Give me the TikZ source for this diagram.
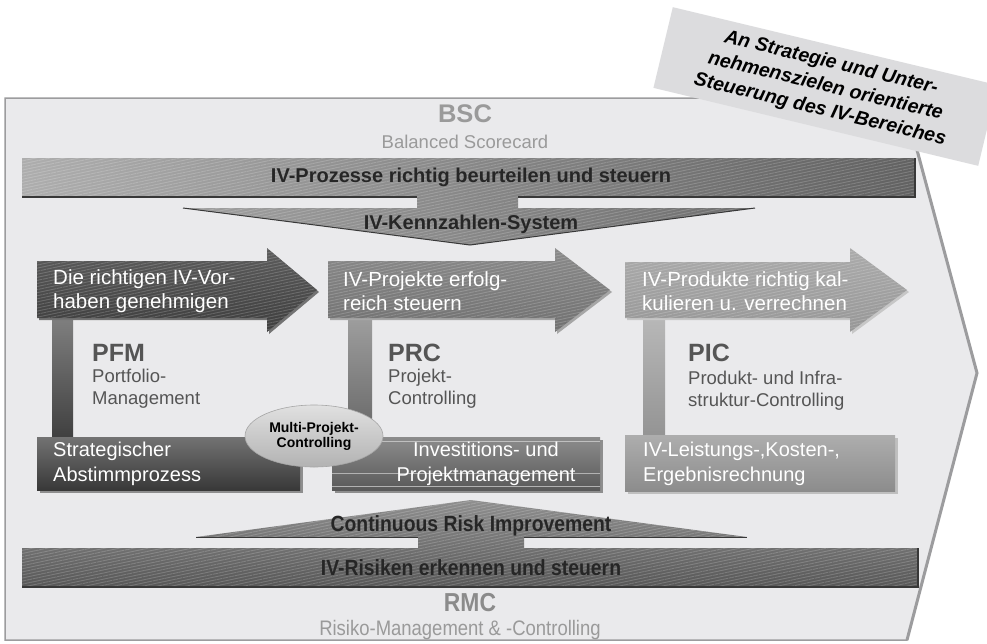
\documentclass[tikz,border=0pt]{standalone}
\usepackage{fontspec}
\setmainfont{Liberation Sans}
\newfontfamily\narrowfont[FakeStretch=0.88]{Liberation Sans}
\usetikzlibrary{patterns.meta,shadows,shapes.geometric}
\definecolor{bgshape}{HTML}{EAEAEC}
\definecolor{edgegray}{HTML}{9C9C9E}
\definecolor{cardgray}{HTML}{DCDCDE}
\definecolor{titlegray}{HTML}{9A9A9A}
\definecolor{labelgray}{HTML}{555555}
\definecolor{shadowgray}{HTML}{8E8E8E}
\definecolor{darkedge}{HTML}{383838}
\newcommand\stripedshape[2]{%
  \path[#1] #2;
  \begin{scope}[transparency group,opacity=0.18]
    \fill[pattern={Lines[angle=12,distance=3pt,line width=0.9pt]},pattern color=white] #2;
  \end{scope}}
\tikzset{
  boxshadow/.style={drop shadow={shadow xshift=3pt,shadow yshift=-3pt,fill=shadowgray,opacity=1}},
  arrowtxt/.style={inner sep=0pt,anchor=west,align=left,text=white,font=\fontsize{20.5}{24}\selectfont},
  boxtxt/.style={inner sep=0pt,anchor=west,align=left,text=white,font=\fontsize{20}{25}\selectfont},
  abbr/.style={inner sep=0pt,anchor=west,text=labelgray,font=\fontsize{25}{25}\selectfont\bfseries},
  sublbl/.style={inner sep=0pt,anchor=north west,align=left,text=labelgray,font=\fontsize{18.5}{22}\selectfont},
  bartxt/.style={inner sep=0pt,text=black!85,font=\fontsize{20}{20}\selectfont\bfseries},
  card/.style={fill=cardgray,minimum width=334pt,minimum height=83pt,inner sep=0pt,align=center,font=\fontsize{19.5}{24}\selectfont\bfseries\itshape}
}
\begin{document}
\begin{tikzpicture}[x=1pt,y=-1pt]
\useasboundingbox (0,0) rectangle (987,643);
\fill[white] (0,0) rectangle (987,643);

% outer pentagon
\path[fill=bgshape,draw=edgegray,line width=1.5pt] (5,98) -- (903,98) -- (977,373) -- (907,640) -- (5,640) -- cycle;
\draw[edgegray,line width=3pt] (903,98) -- (977,373) -- (907,640);

% rotated card
\node[card,rotate=-13.5] (card) at (825.5,86.5) {An Strategie und Unter-\\nehmenszielen orientierte\\Steuerung des IV-Bereiches};

% titles
\node[inner sep=0pt,text=titlegray,font=\fontsize{25.5}{25}\selectfont\bfseries] (bsc) at (465,114) {BSC};
\node[inner sep=0pt,text=titlegray,font=\fontsize{18.5}{18}\selectfont] (bscsub) at (465,142) {Balanced Scorecard};

% top bar + down triangle
\stripedshape{left color=black!32,right color=black!62}{(22,158) -- (915,158) -- (915,197) -- (518,197) -- (518,208) -- (755,208) -- (470,245) -- (183,208) -- (417,208) -- (417,197) -- (22,197) -- cycle}
\draw[darkedge,line width=1.5pt] (22,197) -- (417,197);
\draw[darkedge,line width=1.5pt] (518,197) -- (915,197) -- (915,158);
\draw[darkedge,line width=1pt] (183,208) -- (470,245) -- (755,208);
\node[bartxt] (ivproz) at (471,177) {IV-Prozesse richtig beurteilen und steuern};
\node[bartxt] (ivkenn) at (471,224) {IV-Kennzahlen-System};

% vertical connector bars
\path[top color=black!50,bottom color=black!75] (52,317) rectangle (73,438);
\path[top color=black!38,bottom color=black!60] (348,317) rectangle (372,438);
\path[top color=black!28,bottom color=black!42] (643,318) rectangle (665,436);

% arrows
\stripedshape{top color=black!64,bottom color=black!76,drop shadow={shadow xshift=2pt,shadow yshift=-2pt,fill=black!55,opacity=1}}{(37,261) -- (267,261) -- (267,248) -- (317,290) -- (267,332) -- (267,318) -- (37,318) -- cycle}
\stripedshape{top color=black!46,bottom color=black!56,drop shadow={shadow xshift=2pt,shadow yshift=-2pt,fill=black!35,opacity=1}}{(328,261) -- (555,261) -- (555,248) -- (610,290) -- (555,332) -- (555,318) -- (328,318) -- cycle}
\stripedshape{top color=black!33,bottom color=black!41,drop shadow={shadow xshift=2pt,shadow yshift=-2pt,fill=black!22,opacity=1}}{(625,262) -- (850,262) -- (850,248) -- (907,290) -- (850,332) -- (850,318) -- (625,318) -- cycle}
\node[arrowtxt] (a1txt) at (53,291) {Die richtigen IV-Vor-\\haben genehmigen};
\node[arrowtxt] (a2txt) at (343,291) {IV-Projekte erfolg-\\reich steuern};
\node[arrowtxt] (a3txt) at (642,291) {IV-Produkte richtig kal-\\kulieren u. verrechnen};

% labels
\node[abbr] (pfm) at (92,353) {PFM};
\node[sublbl] (pfmsub) at (92,369) {Portfolio-\\Management};
\node[abbr] (prc) at (388,353) {PRC};
\node[sublbl] (prcsub) at (388,369) {Projekt-\\Controlling};
\node[abbr] (pic) at (688,353) {PIC};
\node[sublbl] (picsub) at (688,371) {Produkt- und Infra-\\struktur-Controlling};

% bottom boxes
\path[top color=black!55,bottom color=black!78,boxshadow] (37,437) rectangle (300,490);
\path[top color=black!45,bottom color=black!65,boxshadow] (332,437) rectangle (600,490);
\draw[white!75!black,line width=0.8pt] (332,441) -- (600,441);
\draw[white!70!black,line width=0.8pt] (332,473) -- (600,473);
\draw[white!70!black,line width=0.8pt] (332,486) -- (600,486);
\path[top color=black!32,bottom color=black!45,drop shadow={shadow xshift=3pt,shadow yshift=-3pt,fill=black!25,opacity=1}] (625,435) rectangle (895,491);
\node[boxtxt] (b1txt) at (53,464) {Strategischer\\Abstimmprozess};
\node[boxtxt,anchor=center,align=center] (b2txt) at (486,464) {Investitions- und\\Projektmanagement};
\node[boxtxt] (b3txt) at (643,464) {IV-Leistungs-,Kosten-,\\Ergebnisrechnung};

% ellipse
\node[ellipse,minimum width=138pt,minimum height=62pt,inner sep=0pt,top color=black!12,bottom color=black!30,draw=black!35,line width=0.6pt,align=center,font=\fontsize{14}{15}\selectfont\bfseries] (mpc) at (314,436) {Multi-Projekt-\\Controlling};

% bottom bar + up triangle
\stripedshape{top color=black!44,bottom color=black!66}{(22,548) -- (418,548) -- (418,537) -- (196,537) -- (471,500) -- (747,537) -- (524,537) -- (524,548) -- (918,548) -- (918,587) -- (22,587) -- cycle}
\draw[darkedge,line width=1.5pt] (22,587) -- (918,587) -- (918,548);
\draw[darkedge,line width=1pt] (196,537) -- (418,537);
\draw[darkedge,line width=1pt] (524,537) -- (747,537);
\node[inner sep=0pt,text=black!85,font=\narrowfont\fontsize{22}{22}\selectfont\bfseries] (cri) at (471,526) {Continuous Risk Improvement};
\node[inner sep=0pt,text=black!85,font=\narrowfont\fontsize{22}{22}\selectfont\bfseries] (ivris) at (471,568) {IV-Risiken erkennen und steuern};
\node[inner sep=0pt,text=titlegray!90!black,font=\narrowfont\fontsize{26}{26}\selectfont\bfseries] (rmc) at (470,603) {RMC};
\node[inner sep=0pt,text=titlegray,font=\narrowfont\fontsize{21}{21}\selectfont] (rmcsub) at (460,630) {Risiko-Management \& -Controlling};
\end{tikzpicture}
\end{document}
